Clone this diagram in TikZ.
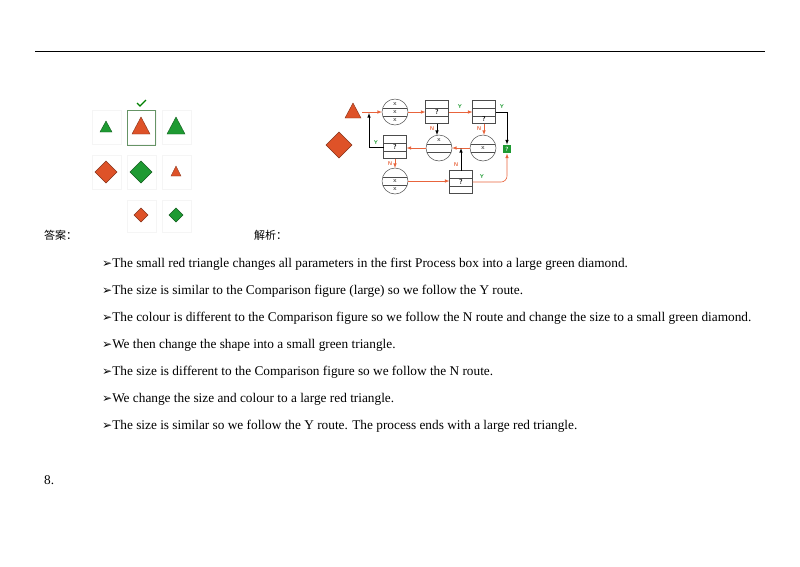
\documentclass[tikz,border=0pt]{standalone}
\usepackage{fontspec}
\setmainfont{Liberation Serif}
\newfontfamily\cjk{Noto Sans CJK SC}
\newfontfamily\dejavu{DejaVu Sans}
\definecolor{rr}{HTML}{DE5228}
\definecolor{gg}{HTML}{1E9A32}
\definecolor{ar}{HTML}{E8643C}
\begin{document}
\begin{tikzpicture}[x=1pt,y=-1pt,
 rd/.style={fill=rr,draw=rr!60!black,line width=0.4pt},
 gr/.style={fill=gg,draw=gg!60!black,line width=0.4pt},
 cell/.style={draw=black!4,line width=0.4pt},
 flow/.style={draw=black!70,line width=0.5pt,fill=white},
 ra/.style={draw=ar,line width=0.6pt,-{latex}},
 ba/.style={draw=black,line width=0.6pt,-{latex}},
 lbl/.style={font=\sffamily\bfseries\fontsize{5.5}{6}\selectfont,inner sep=0.5pt},
 yl/.style={lbl,text=gg},
 nl/.style={lbl,text=ar},
 body/.style={anchor=west,font=\fontsize{13.3}{15}\selectfont,inner sep=0}]
\useasboundingbox (0,0) rectangle (800,566);
\draw[line width=0.6pt] (35,51) -- (765,51);
% grid
\foreach \x in {92,127,162} \foreach \y in {110,155} \draw[cell] (\x,\y) rectangle ++(29,34);
\foreach \x in {127,162} \draw[cell] (\x,200) rectangle ++(29,32);
\draw[draw=green!30!black!60,line width=0.7pt] (127,110) rectangle (155,145);
\draw[green!50!black,line width=1.3pt] (137,103) -- (140,106) -- (146,100);
\path[gr] (106,121) -- (112,132) -- (100,132) -- cycle;
\path[rd] (141,117) -- (150,134) -- (132,134) -- cycle;
\path[gr] (176,117) -- (185,134) -- (167,134) -- cycle;
\path[rd] (106,161) -- (117,172) -- (106,183) -- (95,172) -- cycle;
\path[gr] (141,161) -- (152,172) -- (141,183) -- (130,172) -- cycle;
\path[rd] (176,166) -- (181,176) -- (171,176) -- cycle;
\path[rd] (141,208) -- (148,215) -- (141,222) -- (134,215) -- cycle;
\path[gr] (176,208) -- (183,215) -- (176,222) -- (169,215) -- cycle;
% flowchart
\path[rd] (353,103) -- (361,118) -- (345,118) -- cycle;
\path[rd] (339,132) -- (352,145) -- (339,158) -- (326,145) -- cycle;
\tikzset{qf/.style={font=\sffamily\bfseries\fontsize{7}{7}\selectfont,inner sep=0},xf/.style={font=\sffamily\fontsize{6.5}{6}\selectfont,inner sep=0}}
\foreach \n/\x/\y in {c1/395/112,c2/439/148,c3/483/148,c4/395/181}{
 \draw[flow] (\x,\y) circle (13);
 \coordinate (\n) at (\x,\y);
 \draw[black!70,line width=0.4pt] (\x-12,\y-4.3) -- (\x+12,\y-4.3) (\x-12,\y+4.3) -- (\x+12,\y+4.3);
}
\node[xf] at (395,104) {x};\node[xf] at (395,112) {x};\node[xf] at (395,120.5) {x};
\node[xf] at (439,140) {x};
\node[xf] at (483,148) {x};
\node[xf] at (395,181) {x};\node[xf] at (395,189.5) {x};
\foreach \n/\x/\y in {b1/437/112,b2/484/112,b3/395/147,b4/461/182}{
 \draw[flow] (\x-11.5,\y-11.5) rectangle (\x+11.5,\y+11.5);
 \draw[black!70,line width=0.4pt] (\x-11.5,\y-4) -- (\x+11.5,\y-4) (\x-11.5,\y+4) -- (\x+11.5,\y+4);
 \coordinate (\n) at (\x,\y);
}
\node[qf] at (437,112) {?};\node[qf] at (484,119.5) {?};\node[qf] at (395,147) {?};\node[qf] at (461,182) {?};
\node[fill=gg,minimum size=8pt,inner sep=0,text=white,font=\sffamily\bfseries\fontsize{6}{6}\selectfont] (g) at (507,149) {?};
\draw[ra] (362,112) -- (382,112);
\draw[ra] (408,112) -- (425.5,112);
\draw[ra] (448.5,112) -- (472.5,112); \node[yl] at (460,107) {Y};
\draw[ba] (495.5,112) -| (507,144.5); \node[yl] at (502,107) {Y};
\draw[ba] (437,123.5) -- (437,135); \node[nl] at (432,129) {N};
\draw[ra] (484,123.5) -- (484,135); \node[nl] at (479,129) {N};
\draw[ra] (470,148) -- (452,148);
\draw[ra] (426,148) -- (406.5,148);
\draw[ba] (383.5,147) -| (369,113);
\node[yl] at (376,143) {Y};
\draw[ra] (395,158.5) -- (395,168); \node[nl] at (390,164) {N};
\draw[ra] (408,181) -- (449.5,181);
\draw[ba] (461,170.5) -- (461,148); \node[nl] at (456,165) {N};
\draw[ra] (472.5,182) -- (501,182) to[out=0,in=-90] (507,176) -- (507,153.5);
\node[yl] at (482,177) {Y};
% text
\node[anchor=west,inner sep=0,font=\cjk\fontsize{11}{13}\selectfont] at (44,235) {答案：};
\node[anchor=west,inner sep=0,font=\cjk\fontsize{11}{13}\selectfont] at (254,235) {解析：};
\foreach \y/\t in {264/{The small red triangle changes all parameters in the first Process box into a large green diamond.},
291/{The size is similar to the Comparison figure (large) so we follow the Y route.},
318/{The colour is different to the Comparison figure so we follow the N route and change the size to a small green diamond.},
345/{We then change the shape into a small green triangle.},
372/{The size is different to the Comparison figure so we follow the N route.},
399/{We change the size and colour to a large red triangle.},
426/{The size is similar so we follow the Y route. The process ends with a large red triangle.}}{
 \node[body] at (102,\y) {{\dejavu\fontsize{12}{12}\selectfont ➢}\t};
}
\node[body] at (44,480) {8.};
\end{tikzpicture}
\end{document}
